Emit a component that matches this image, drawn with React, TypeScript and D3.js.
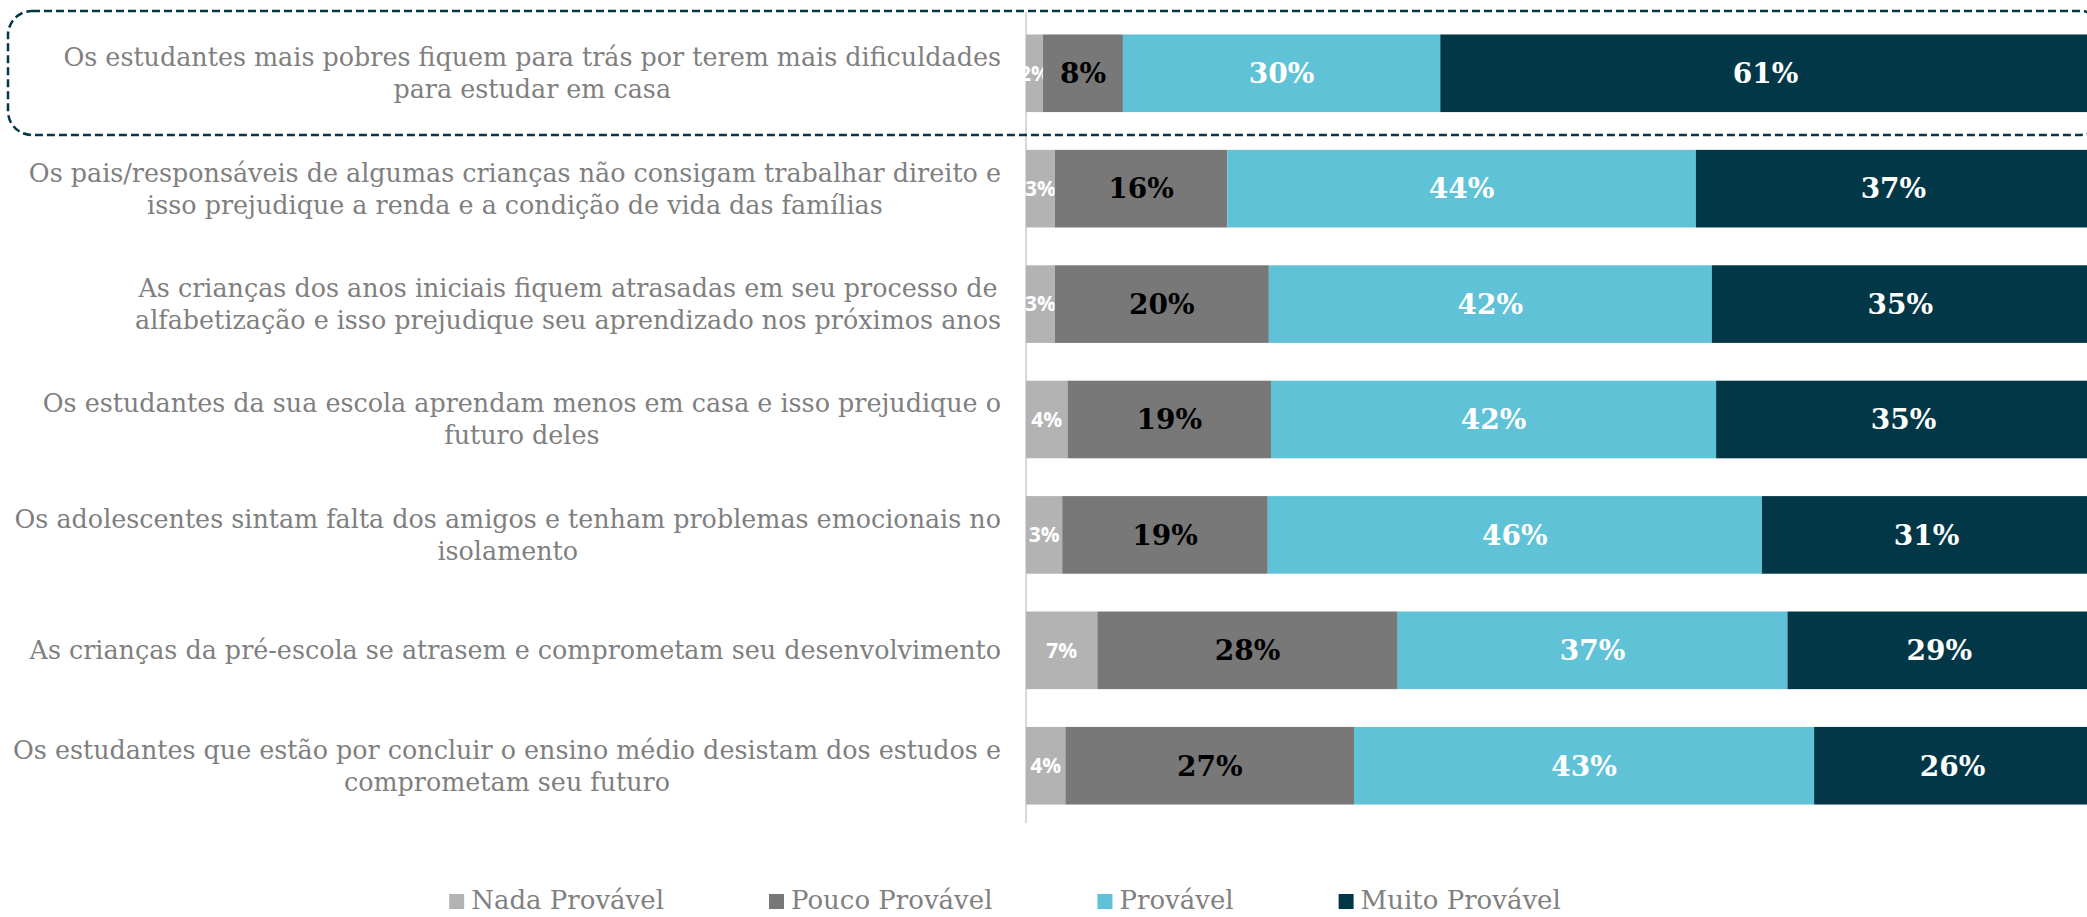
import React from "react";
import * as d3 from "d3";

const categories: string[][] = [
  ["Os estudantes mais pobres fiquem para trás por terem mais dificuldades", "para estudar em casa"],
  ["Os pais/responsáveis de algumas crianças não consigam trabalhar direito e", "isso prejudique a renda e a condição de vida das famílias"],
  ["As crianças dos anos iniciais fiquem atrasadas em seu processo de", "alfabetização e isso prejudique seu aprendizado nos próximos anos"],
  ["Os estudantes da sua escola aprendam menos em casa e isso prejudique o", "futuro deles"],
  ["Os adolescentes sintam falta dos amigos e tenham problemas emocionais no", "isolamento"],
  ["As crianças da pré-escola se atrasem e comprometam seu desenvolvimento"],
  ["Os estudantes que estão por concluir o ensino médio desistam dos estudos e", "comprometam seu futuro"],
];

const seriesNames = ["Nada Provável", "Pouco Provável", "Provável", "Muito Provável"];
const nadaProvavel = [1.6, 2.7, 2.7, 3.9, 3.4, 6.7, 3.7];
const poucoProvavel = [7.5, 16.2, 20.1, 19.1, 19.3, 28.2, 27.1];
const provavel = [29.8, 44.0, 41.6, 41.8, 46.4, 36.6, 43.2];
const muitoProvavel = [61.1, 37.1, 35.4, 35.2, 30.9, 28.7, 26.0];

const colors = ["#B3B3B3", "#787878", "#60C2D6", "#023747"];
const labelColors = ["#FFFFFF", "#000000", "#FFFFFF", "#FFFFFF"];

const W = 2087;
const H = 917;

let canvasCtx: CanvasRenderingContext2D | null = null;
function textWidth(text: string, font: string): number {
  if (!canvasCtx) canvasCtx = document.createElement("canvas").getContext("2d");
  if (!canvasCtx) return text.length * 12;
  canvasCtx.font = font;
  return canvasCtx.measureText(text).width;
}

const catFontSize = 25.4;
const catFont = `${catFontSize}px "DejaVu Serif"`;
const legendFontSize = 26;
const legendFont = `${legendFontSize}px "DejaVu Serif"`;

export default function App() {
  const rows = categories.map((c, i) => i);
  const x = d3.scaleLinear().domain([0, 100]).range([1026, 2091]);
  const y = d3.scaleBand<number>().domain(rows).range([16, 823]).paddingInner(0.3275).paddingOuter(0.16);

  const data = rows.map((i) => ({
    idx: i,
    v0: nadaProvavel[i],
    v1: poucoProvavel[i],
    v2: provavel[i],
    v3: muitoProvavel[i],
  }));
  const stack = d3.stack<any>().keys(["v0", "v1", "v2", "v3"])(data);

  const labelRight = 1001;
  const lineGap = 32;

  // legend layout
  const sq = 15;
  const textOff = 22;
  const gap = 105;
  const widths = seriesNames.map((s) => textWidth(s, legendFont));
  const total = widths.reduce((a, w) => a + textOff + w, 0) + gap * (seriesNames.length - 1);
  const legendCenter = 1005;
  let cursor = legendCenter - total / 2;
  const legendItems = seriesNames.map((s, i) => {
    const item = { name: s, x: cursor, color: colors[i] };
    cursor += textOff + widths[i] + gap;
    return item;
  });
  const legendY = 900;

  return (
    <svg width={W} height={H} style={{ position: "absolute", left: 0, top: 0, background: "#fff" }}>
      <line x1={1026} x2={1026} y1={12} y2={823} stroke="#D9D9D9" strokeWidth={2} />
      {stack.map((layer, si) => (
        <g key={si}>
          {layer.map((d, ri) => {
            const x0 = x(d[0]);
            const x1 = x(d[1]);
            const yy = y(ri) as number;
            const bw = y.bandwidth();
            const val = Math.round(d[1] - d[0]);
            const cx = (x0 + Math.min(x1, 2091)) / 2;
            return (
              <g key={ri}>
                <rect x={x0} y={yy} width={Math.max(0, x1 - x0)} height={bw} fill={colors[si]} />
                <text
                  x={cx}
                  y={yy + bw / 2}
                  dy="0.35em"
                  textAnchor="middle"
                  fill={labelColors[si]}
                  fontFamily={si === 0 ? "'Open Sans', sans-serif" : "'DejaVu Serif', serif"}
                  fontWeight="bold"
                  fontSize={si === 0 ? 21 : 28}
                >
                  {val}%
                </text>
              </g>
            );
          })}
        </g>
      ))}
      {categories.map((lines, i) => {
        const maxW = Math.max(...lines.map((l) => textWidth(l, catFont)));
        const cx = labelRight - maxW / 2;
        const cy = (y(i) as number) + y.bandwidth() / 2;
        const startY = cy - ((lines.length - 1) * lineGap) / 2;
        return (
          <text
            key={i}
            textAnchor="middle"
            fill="#7F7F7F"
            fontFamily="'DejaVu Serif', serif"
            fontSize={catFontSize}
          >
            {lines.map((l, li) => (
              <tspan key={li} x={cx} y={startY + li * lineGap} dy="0.35em">
                {l}
              </tspan>
            ))}
          </text>
        );
      })}
      <rect
        x={8}
        y={11}
        width={2096}
        height={124}
        rx={24}
        ry={24}
        fill="none"
        stroke="#023747"
        strokeWidth={2.5}
        strokeDasharray="8 4"
      />
      {legendItems.map((it, i) => (
        <g key={i}>
          <rect x={it.x} y={legendY - 6} width={sq} height={sq} fill={it.color} />
          <text
            x={it.x + textOff}
            y={legendY}
            dy="0.35em"
            fill="#808080"
            fontFamily="'DejaVu Serif', serif"
            fontSize={legendFontSize}
          >
            {it.name}
          </text>
        </g>
      ))}
    </svg>
  );
}
